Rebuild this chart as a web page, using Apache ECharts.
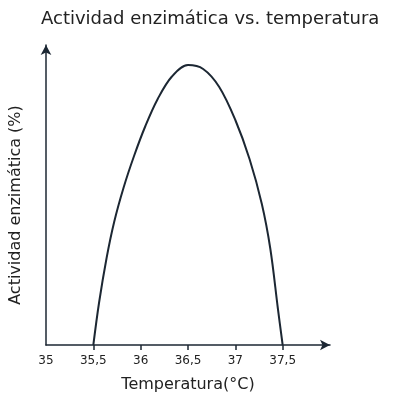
<!DOCTYPE html>
<html>
<head>
<meta charset="utf-8">
<script src="https://cdn.jsdelivr.net/npm/echarts@6/dist/echarts.min.js"></script>
<style>html,body{margin:0;padding:0;background:#fff}#c{width:404px;height:404px}</style>
</head>
<body>
<div id="c"></div>
<script>
var titleText = "Actividad enzimática vs. temperatura";
var xName = "Temperatura(°C)";
var yName = "Actividad enzimática (%)";
var xTickLabels = [35, 35.5, 36, 36.5, 37, 37.5];
var xTickMarks = [35.5, 36, 36.5, 37, 37.5];
var temps = [35.5, 35.56, 35.64, 35.72, 35.82, 35.93, 36.05, 36.18, 36.33, 36.5, 36.66, 36.83, 37.0, 37.15, 37.28, 37.37, 37.45, 37.5];
var activity = [0, 14, 29, 41, 52.5, 63, 73, 82, 89.5, 93.3, 92, 86, 75, 62, 47, 32, 12, 0];

var data = temps.map(function (t, i) { return [t, activity[i]]; });
var ink = '#1c2733';
var font = '"DejaVu Sans", sans-serif';
var chart = echarts.init(document.getElementById('c'));
chart.setOption({
  backgroundColor: '#fff',
  animation: false,
  title: {
    text: titleText, left: 36, top: 5,
    textStyle: { fontFamily: font, fontSize: 18, fontWeight: 'normal', color: '#222' }
  },
  grid: { left: 46, right: 74, top: 45, bottom: 59 },
  xAxis: {
    type: 'value', min: 35, max: 38, interval: 0.5,
    name: xName, nameLocation: 'middle', nameGap: 32,
    nameTextStyle: { fontFamily: font, fontSize: 16, color: '#222' },
    axisLine: { show: true, symbol: ['none', 'arrow'], symbolSize: [8, 10], lineStyle: { color: ink, width: 1.5 } },
    axisTick: { show: true, length: 5, customValues: xTickMarks, lineStyle: { color: ink, width: 1.5 } },
    axisLabel: {
      customValues: xTickLabels, margin: 10, fontFamily: font, fontSize: 12, color: '#222',
      formatter: function (v) { return String(v).replace('.', ','); }
    },
    splitLine: { show: false }
  },
  yAxis: {
    type: 'value', min: 0, max: 100,
    name: yName, nameLocation: 'middle', nameGap: 22,
    nameTextStyle: { fontFamily: font, fontSize: 16, color: '#222', padding: [0, 0, 0, -20] },
    axisLine: { show: true, symbol: ['none', 'arrow'], symbolSize: [8, 10], lineStyle: { color: ink, width: 1.5 } },
    axisTick: { show: false },
    axisLabel: { show: false },
    splitLine: { show: false }
  },
  series: [{
    type: 'line', data: data, smooth: 0.35, symbol: 'none',
    lineStyle: { color: ink, width: 2 }
  }]
});
</script>
</body>
</html>
